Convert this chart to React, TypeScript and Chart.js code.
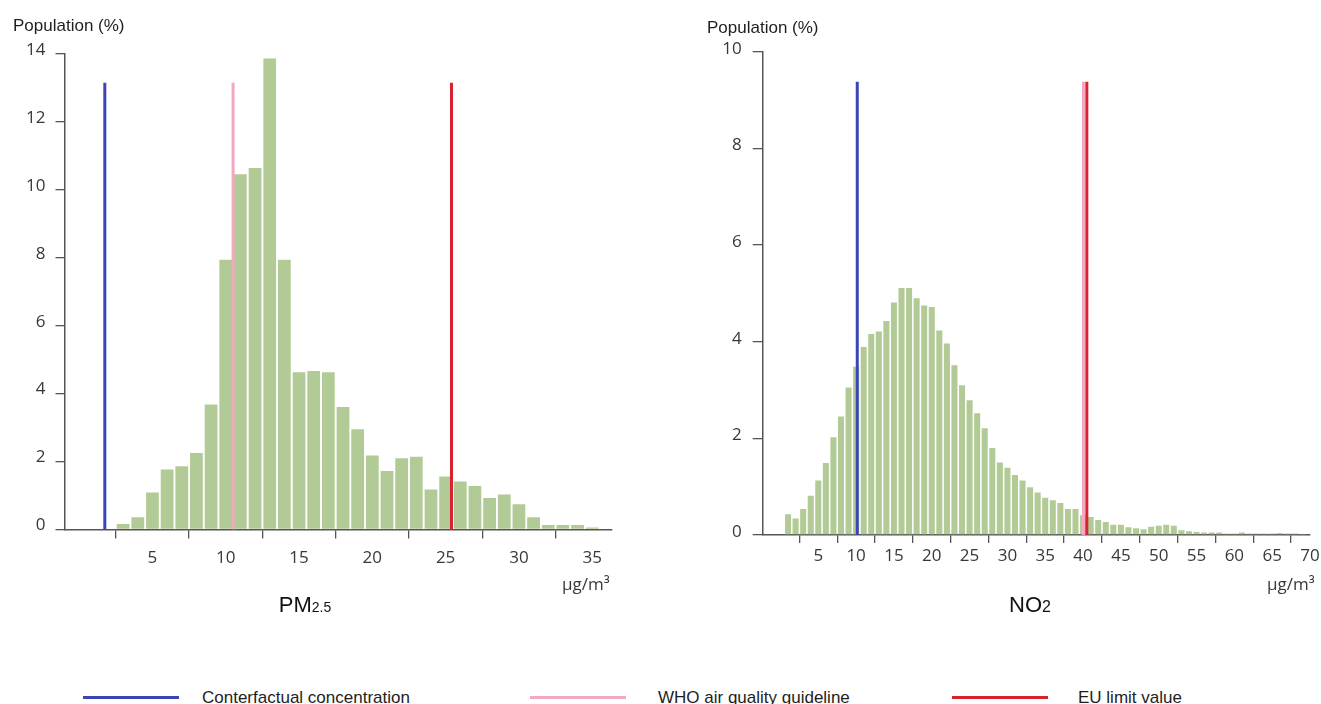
import React, { useEffect, useRef } from "react";
import { Chart, registerables } from "chart.js";

Chart.register(...registerables);

// ---------- PM2.5 data ----------
const pmBins = [3, 4, 5, 6, 7, 8, 9, 10, 11, 12, 13, 14, 15, 16, 17, 18, 19, 20, 21, 22, 23, 24, 25, 26, 27, 28, 29, 30, 31, 32, 33, 34, 35];
const pmShares = [0.16, 0.36, 1.09, 1.77, 1.86, 2.25, 3.68, 7.94, 10.46, 10.64, 13.87, 7.94, 4.63, 4.67, 4.63, 3.61, 2.95, 2.18, 1.72, 2.1, 2.14, 1.18, 1.56, 1.41, 1.28, 0.93, 1.03, 0.74, 0.36, 0.13, 0.13, 0.13, 0.06];
const pmTicksX = [5, 10, 15, 20, 25, 30, 35];
const pmTicksY = [0, 2, 4, 6, 8, 10, 12, 14];
const pmCounterfactual = 1.75;
const pmWhoGuideline = 10.5;
const pmEuLimit = 25.4;
const pmRefLineTop = 13.15;

// ---------- NO2 data ----------
const no2Bins = [1, 2, 3, 4, 5, 6, 7, 8, 9, 10, 11, 12, 13, 14, 15, 16, 17, 18, 19, 20, 21, 22, 23, 24, 25, 26, 27, 28, 29, 30, 31, 32, 33, 34, 35, 36, 37, 38, 39, 40, 41, 42, 43, 44, 45, 46, 47, 48, 49, 50, 51, 52, 53, 54, 55, 56, 57, 58, 59, 60, 61, 62, 63, 64, 65, 66, 67, 68, 69];
const no2Shares = [0.43, 0.34, 0.54, 0.81, 1.13, 1.49, 2.02, 2.45, 3.05, 3.48, 3.89, 4.16, 4.21, 4.43, 4.81, 5.11, 5.11, 4.9, 4.75, 4.72, 4.23, 3.96, 3.51, 3.1, 2.79, 2.52, 2.21, 1.8, 1.5, 1.39, 1.24, 1.13, 0.99, 0.88, 0.77, 0.72, 0.66, 0.54, 0.54, 0.41, 0.37, 0.31, 0.27, 0.21, 0.21, 0.16, 0.14, 0.12, 0.17, 0.19, 0.21, 0.19, 0.1, 0.08, 0.06, 0.05, 0.05, 0.05, 0.03, 0.03, 0.05, 0.03, 0.03, 0.03, 0.03, 0.04, 0.03, 0.03, 0.02];
const no2TicksX = [5, 10, 15, 20, 25, 30, 35, 40, 45, 50, 55, 60, 65, 70];
const no2TicksY = [0, 2, 4, 6, 8, 10];
const no2Counterfactual = 10.15;
const no2WhoGuideline = 40.05;
const no2EuLimit = 40.5;
const no2RefLineTop = 9.38;

// ---------- legend ----------
const legendLabels = ["Conterfactual concentration", "WHO air quality guideline", "EU limit value"];

// ---------- styles ----------
const GREEN = "#b2cb96";
const BLUE = "#3a46b5";
const PINK = "#f2a7c3";
const RED = "#d8232f";
const AXIS = "#555555";
const TICK_COLOR = "#383838";
const TICK_FONT = "'Open Sans', sans-serif";
const TEXT_FONT = "'Liberation Sans', Arial, sans-serif";

type HistProps = {
  bins: number[];
  shares: number[];
  ticksX: number[];
  ticksY: number[];
  xMin: number;
  xMax: number;
  yMax: number;
  lines: { x: number; color: string }[];
  lineTop: number;
  left: number;
  width: number;
  height: number;
  padTop: number;
  padRight: number;
  yAxisWidth: number;
  xAxisHeight: number;
  barFrac: number;
  yTickLen: number;
  yTickPad: number;
  yLabelOffset: number;
  xTickLen: number;
  xTickPad: number;
};

function Histogram(p: HistProps) {
  const ref = useRef<HTMLCanvasElement>(null);
  useEffect(() => {
    if (!ref.current) return;
    const lineSets = p.lines.map((l) => ({
      type: "line" as const,
      data: [
        { x: l.x, y: 0 },
        { x: l.x, y: p.lineTop },
      ],
      borderColor: l.color,
      borderWidth: 3,
      borderCapStyle: "butt" as const,
      pointRadius: 0,
      fill: false,
      order: 0,
    }));
    const chart = new Chart(ref.current, {
      type: "bar",
      data: {
        datasets: [
          ...lineSets,
          {
            type: "bar" as const,
            data: p.bins.map((b, i) => ({ x: b, y: p.shares[i] })),
            backgroundColor: GREEN,
            borderWidth: 0,
            barPercentage: 1,
            categoryPercentage: p.barFrac,
            order: 1,
          },
        ] as any,
      },
      options: {
        responsive: false,
        animation: false,
        devicePixelRatio: 1,
        layout: { padding: { top: p.padTop, right: p.padRight, left: 0, bottom: 0 } },
        plugins: { legend: { display: false }, tooltip: { enabled: false } },
        scales: {
          x: {
            type: "linear",
            min: p.xMin,
            max: p.xMax,
            offset: false,
            afterBuildTicks: (s: any) => {
              s.ticks = p.ticksX.map((v) => ({ value: v }));
            },
            afterFit: (s: any) => {
              s.height = p.xAxisHeight;
              s.paddingLeft = 0;
              s.paddingRight = 0;
            },
            grid: {
              display: true,
              drawOnChartArea: false,
              drawTicks: true,
              tickLength: p.xTickLen,
              color: AXIS,
              lineWidth: 1.3,
            },
            border: { display: true, color: AXIS, width: 1.5 },
            ticks: {
              font: { family: TICK_FONT, size: 17 },
              color: TICK_COLOR,
              padding: p.xTickPad,
              maxRotation: 0,
              autoSkip: false,
              callback: (v: any) => String(v),
            },
          },
          y: {
            type: "linear",
            min: 0,
            max: p.yMax,
            afterBuildTicks: (s: any) => {
              s.ticks = p.ticksY.map((v) => ({ value: v }));
            },
            afterFit: (s: any) => {
              s.width = p.yAxisWidth;
              s.paddingTop = 0;
              s.paddingBottom = 0;
            },
            grid: {
              display: true,
              drawOnChartArea: false,
              drawTicks: true,
              tickLength: p.yTickLen,
              color: AXIS,
              lineWidth: 1.3,
            },
            border: { display: true, color: AXIS, width: 1.5 },
            ticks: {
              font: { family: TICK_FONT, size: 17 },
              color: TICK_COLOR,
              padding: p.yTickPad,
              labelOffset: p.yLabelOffset,
              autoSkip: false,
              callback: (v: any) => String(v),
            },
          },
        },
      } as any,
    });
    return () => chart.destroy();
  }, []);
  return (
    <canvas
      ref={ref}
      width={p.width}
      height={p.height}
      style={{ position: "absolute", left: p.left, top: 0, width: p.width, height: p.height }}
    />
  );
}

const abs = (left: number, top: number, extra: React.CSSProperties = {}): React.CSSProperties => ({
  position: "absolute",
  left,
  top,
  lineHeight: 1,
  whiteSpace: "nowrap",
  ...extra,
});

export default function App() {
  const yTitle: React.CSSProperties = { fontFamily: TEXT_FONT, fontSize: 17, color: "#1e1e1e" };
  const unit: React.CSSProperties = { fontFamily: TICK_FONT, fontSize: 17, color: TICK_COLOR };
  const title: React.CSSProperties = { fontFamily: TEXT_FONT, fontSize: 22, color: "#111" };
  const legendText: React.CSSProperties = { fontFamily: TEXT_FONT, fontSize: 17, color: "#1e1e1e" };
  const legendLines = [
    { x1: 83, x2: 179, color: BLUE, tx: 202 },
    { x1: 530, x2: 626, color: PINK, tx: 658 },
    { x1: 952, x2: 1048, color: RED, tx: 1078 },
  ];
  return (
    <div style={{ position: "absolute", left: 0, top: 0, width: 1321, height: 704, background: "#fff", overflow: "hidden" }}>
      <Histogram
        bins={pmBins}
        shares={pmShares}
        ticksX={pmTicksX}
        ticksY={pmTicksY}
        xMin={-1}
        xMax={36.35}
        yMax={14}
        lines={[
          { x: pmCounterfactual, color: BLUE },
          { x: pmWhoGuideline, color: PINK },
          { x: pmEuLimit, color: RED },
        ]}
        lineTop={pmRefLineTop}
        left={0}
        width={650}
        height={600}
        padTop={54}
        padRight={38}
        yAxisWidth={64.5}
        xAxisHeight={70.5}
        barFrac={0.87}
        yTickLen={9}
        yTickPad={10}
        yLabelOffset={-4}
        xTickLen={9}
        xTickPad={9}
      />
      <Histogram
        bins={no2Bins}
        shares={no2Shares}
        ticksX={no2TicksX}
        ticksY={no2TicksY}
        xMin={-2.35}
        xMax={70}
        yMax={10}
        lines={[
          { x: no2Counterfactual, color: BLUE },
          { x: no2WhoGuideline, color: PINK },
          { x: no2EuLimit, color: RED },
        ]}
        lineTop={no2RefLineTop}
        left={650}
        width={671}
        height={600}
        padTop={51.7}
        padRight={11}
        yAxisWidth={112.7}
        xAxisHeight={65}
        barFrac={0.8}
        yTickLen={10}
        yTickPad={11}
        yLabelOffset={-3}
        xTickLen={8}
        xTickPad={3}
      />

      <div style={abs(13, 16.5, yTitle)}>Population (%)</div>
      <div style={abs(707, 18.8, yTitle)}>Population (%)</div>

      <div style={abs(562, 575, unit)}>µg/m³</div>
      <div style={abs(1267, 575, unit)}>µg/m³</div>

      <div style={abs(0, 594, { ...title, width: 610, textAlign: "center" })}>
        PM<span style={{ fontSize: 14 }}>2.5</span>
      </div>
      <div style={abs(0, 594, { ...title, left: 730, width: 600, textAlign: "center" })}>
        NO<span style={{ fontSize: 16 }}>2</span>
      </div>

      {legendLines.map((l, i) => (
        <React.Fragment key={i}>
          <div style={{ position: "absolute", left: l.x1, top: 696, width: l.x2 - l.x1, height: 3, background: l.color }} />
          <div style={abs(l.tx, 688.6, legendText)}>{legendLabels[i]}</div>
        </React.Fragment>
      ))}
    </div>
  );
}
